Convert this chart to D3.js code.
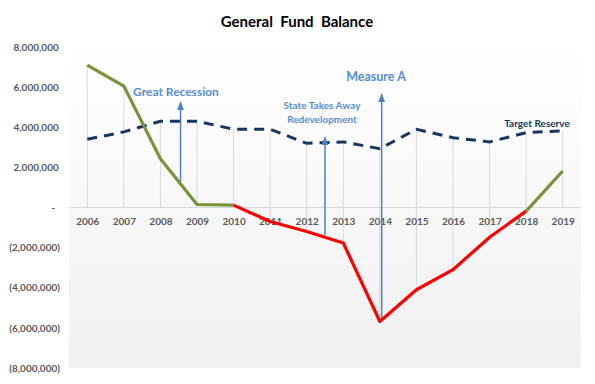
<!DOCTYPE html>
<html><head><meta charset="utf-8">
<script src="https://cdn.jsdelivr.net/npm/d3@7"></script>
<style>body{margin:0;background:#fff}svg{display:block}text{font-family:Lato,"Open Sans",sans-serif}</style>
</head><body><svg id="c" width="595" height="384"></svg>
<script>
const years = [2006,2007,2008,2009,2010,2011,2012,2013,2014,2015,2016,2017,2018,2019];
const fundBalance = [7100000,6050000,2430000,150000,120000,-700000,-1200000,-1770000,-5680000,-4100000,-3100000,-1480000,-180000,1820000];
const targetReserve = [3400000,3770000,4300000,4300000,3900000,3900000,3200000,3270000,2930000,3900000,3480000,3270000,3730000,3820000];
const deficitYears = [2010,2018]; // red stretch of the balance line
const yTicks = [8000000,6000000,4000000,2000000,0,-2000000,-4000000,-6000000,-8000000];
const annotations = [
  {lines:["Great Recession"], year:2008.55, from:1300000, to:5250000, tx:176, ty:92, size:12},
  {lines:["State Takes Away","Redevelopment"], year:2012.5, from:-1400000, to:3500000, tx:322, ty:105, size:10},
  {lines:["Measure A"], year:2014.05, from:-5500000, to:5650000, tx:376, ty:77, size:12.5}
];

const svg = d3.select("#c");
const L=69, R=581, T=47, B=368;
const x = d3.scalePoint().domain(years).range([L,R]).padding(0.5);
const y = d3.scaleLinear().domain([-8000000,8000000]).range([B,T]);
const xc = v => x(years[0]) + (v-years[0])*x.step();

const defs = svg.append("defs");
const g = defs.append("linearGradient").attr("id","bg").attr("x1",0).attr("y1",0).attr("x2",0).attr("y2",1);
g.append("stop").attr("offset","0%").attr("stop-color","#ffffff");
g.append("stop").attr("offset","100%").attr("stop-color","#f0f0f0");
const mk = defs.append("marker").attr("id","arr").attr("viewBox","0 0 10 10").attr("refX",9).attr("refY",5)
  .attr("markerWidth",9).attr("markerHeight",7).attr("markerUnits","userSpaceOnUse").attr("orient","auto")
  .attr("preserveAspectRatio","none");
mk.append("path").attr("d","M0,0 L10,5 L0,10 Z").attr("fill","#4f81bd");

svg.append("rect").attr("x",L).attr("y",T).attr("width",R-L).attr("height",B-T).attr("fill","url(#bg)");

svg.append("text").attr("x",297).attr("y",27).attr("text-anchor","middle")
  .attr("font-size",15).attr("font-weight","bold").attr("fill","#000").style("white-space","pre")
  .text("General  Fund  Balance");

// drop lines
years.forEach((yr,i)=>{
  const hi=Math.max(0,fundBalance[i],targetReserve[i]), lo=Math.min(0,fundBalance[i],targetReserve[i]);
  svg.append("line").attr("x1",x(yr)).attr("x2",x(yr)).attr("y1",y(hi)).attr("y2",y(lo))
    .attr("stroke","#d9d9d9").attr("stroke-width",1);
});

// x axis line
svg.append("line").attr("x1",L).attr("x2",R).attr("y1",y(0)).attr("y2",y(0)).attr("stroke","#d9d9d9").attr("stroke-width",1.2);

// x labels
const xAxis = svg.append("g").attr("transform",`translate(0,${y(0)})`)
  .call(d3.axisBottom(x).tickSize(0).tickPadding(10).tickFormat(d=>d));
xAxis.select(".domain").remove();
xAxis.selectAll("text").attr("font-size",10).attr("font-weight","bold").attr("fill","#595959").attr("font-family","Lato");

// y labels
const fmt = d3.format(",");
const yAxis = svg.append("g").attr("transform",`translate(60,0)`)
  .call(d3.axisLeft(y).tickValues(yTicks).tickSize(0).tickPadding(0)
    .tickFormat(d=> d===0 ? "-  " : d<0 ? "("+fmt(-d)+")" : fmt(d)+"\u2009"));
yAxis.select(".domain").remove();
yAxis.selectAll("text").attr("font-size",10).attr("font-weight","bold").attr("fill","#595959").attr("font-family","Lato")
  .style("white-space","pre");

// target reserve
const line = d3.line().x((d,i)=>x(years[i])).y(d=>y(d));
svg.append("path").attr("d",line(targetReserve)).attr("fill","none").attr("stroke","#17375e")
  .attr("stroke-width",3).attr("stroke-dasharray","10,7");

// fund balance segments
const iA = years.indexOf(deficitYears[0]), iB = years.indexOf(deficitYears[1]);
const pts = fundBalance.map((v,i)=>[x(years[i]),y(v)]);
const l2 = d3.line();
svg.append("path").attr("d",l2(pts.slice(0,iA+1))).attr("fill","none").attr("stroke","#77933c").attr("stroke-width",3.2).attr("stroke-linejoin","round");
svg.append("path").attr("d",l2(pts.slice(iA,iB+1))).attr("fill","none").attr("stroke","#ff0000").attr("stroke-width",3.2).attr("stroke-linejoin","round");
svg.append("path").attr("d",l2(pts.slice(iB))).attr("fill","none").attr("stroke","#77933c").attr("stroke-width",3.2).attr("stroke-linejoin","round");

// annotations
annotations.forEach(a=>{
  svg.append("line").attr("x1",xc(a.year)).attr("x2",xc(a.year)).attr("y1",y(a.from)).attr("y2",y(a.to))
    .attr("stroke","#4f81bd").attr("stroke-width",1.5).attr("marker-end","url(#arr)");
  const t = svg.append("text").attr("text-anchor","middle").attr("font-size",a.size).attr("font-weight","bold").attr("fill","#558ed5");
  a.lines.forEach((s,k)=>t.append("tspan").attr("x",a.tx).attr("y",a.ty+4+k*14).text(s));
});
svg.append("text").attr("x",537).attr("y",127).attr("text-anchor","middle").attr("font-size",10).attr("font-weight","bold")
  .attr("fill","#17375e").text("Target Reserve");
</script></body></html>
